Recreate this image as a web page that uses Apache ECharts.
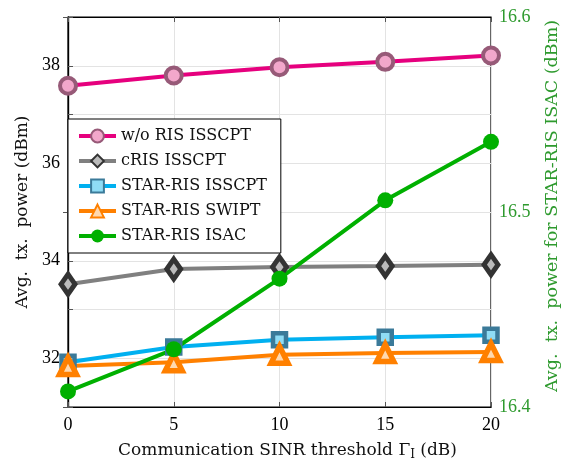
<!DOCTYPE html>
<html>
<head>
<meta charset="utf-8">
<script src="https://cdn.jsdelivr.net/npm/echarts@6/dist/echarts.min.js"></script>
<style>html,body{margin:0;padding:0;background:#fff}#c{width:563px;height:464px}</style>
</head>
<body>
<div id="c"></div>
<script>
const xValues = [0, 5, 10, 15, 20];
const woRIS = [37.59, 37.80, 37.97, 38.08, 38.21];
const cRIS = [33.52, 33.83, 33.87, 33.89, 33.92];
const starISSCPT = [31.92, 32.23, 32.38, 32.43, 32.47];
const starSWIPT = [31.84, 31.92, 32.07, 32.11, 32.13];
const starISAC = [16.408, 16.4296, 16.4658, 16.506, 16.536];
const seriesNames = ['w/o RIS ISSCPT', 'cRIS ISSCPT', 'STAR-RIS ISSCPT', 'STAR-RIS SWIPT', 'STAR-RIS ISAC'];

const FONT = 'DejaVu Serif';
const NUMFONT = 'Liberation Serif';
const GREEN_TXT = '#2e9a2e';
const pairs = arr => xValues.map((x, i) => [x, arr[i]]);

const chart = echarts.init(document.getElementById('c'), null, {renderer: 'canvas'});
chart.setOption({
  animation: false,
  textStyle: {fontFamily: FONT},
  grid: {left: 68, right: 72, top: 17, bottom: 57, outerBoundsMode: 'none', containLabel: false,
         show: true, borderColor: '#000', borderWidth: 1.2, backgroundColor: 'transparent'},
  legend: {
    left: 68, top: 119, orient: 'vertical',
    backgroundColor: '#fff', borderColor: '#000', borderWidth: 1, borderRadius: 0,
    padding: [9, 14, 9, 9], itemGap: 9, itemWidth: 37, itemHeight: 16,
    lineStyle: {width: 4},
    textStyle: {fontFamily: FONT, fontSize: 16, color: '#111'},
    data: seriesNames
  },
  xAxis: [{
    type: 'value', min: 0, max: 20, interval: 5,
    name: '{t|Communication SINR threshold Γ}{s|I}{t| (dB)}',
    nameLocation: 'middle', nameGap: 34,
    nameTextStyle: {padding: [0, 0, 0, 16], rich: {t: {fontFamily: FONT, fontSize: 17, color: '#111'}, s: {fontFamily: FONT, fontSize: 12, color: '#111', verticalAlign: 'bottom', padding: [8, 0, 0, 0]}}},
    axisLine: {show: true, lineStyle: {color: '#000', width: 1.2}},
    axisTick: {show: true, inside: true, length: 5, lineStyle: {color: '#555'}},
    axisLabel: {fontFamily: NUMFONT, fontSize: 18, color: '#000', margin: 9},
    splitLine: {show: true, lineStyle: {color: '#e3e3e3', width: 1}}
  }, {
    type: 'value', min: 0, max: 20, interval: 5, position: 'top',
    axisLine: {show: true, lineStyle: {color: '#000', width: 1.2}},
    axisTick: {show: true, inside: true, length: 5, lineStyle: {color: '#555'}},
    axisLabel: {show: false}, splitLine: {show: false}
  }],
  yAxis: [{
    type: 'value', min: 31, max: 39, interval: 1,
    name: 'Avg.  tx.  power (dBm)', nameLocation: 'middle', nameGap: 36, nameRotate: 90,
    nameTextStyle: {fontFamily: FONT, fontSize: 17, color: '#111'},
    axisLine: {show: true, lineStyle: {color: '#000', width: 1.2}},
    axisTick: {show: true, inside: true, length: 5, interval: i => i % 2 === 1, lineStyle: {color: '#555'}},
    axisLabel: {fontFamily: NUMFONT, fontSize: 18, color: '#000', margin: 8, formatter: v => (v % 2 === 0 ? String(v) : '')},
    splitLine: {show: true, interval: i => i % 2 === 1, lineStyle: {color: '#e3e3e3', width: 1}}
  }, {
    type: 'value', min: 16.4, max: 16.6, interval: 0.1, position: 'right',
    name: 'Avg.  tx.  power for STAR-RIS ISAC (dBm)', nameLocation: 'middle', nameGap: 52, nameRotate: 90,
    nameTextStyle: {fontFamily: FONT, fontSize: 17.5, color: GREEN_TXT, padding: [0, 0, 0, 12]},
    axisLine: {show: true, lineStyle: {color: '#000', width: 1.2}},
    axisTick: {show: true, inside: true, length: 5, lineStyle: {color: '#555'}},
    axisLabel: {fontFamily: NUMFONT, fontSize: 18, color: GREEN_TXT, margin: 8, formatter: v => v.toFixed(1)},
    splitLine: {show: false}
  }],
  series: [
    {name: seriesNames[0], type: 'line', yAxisIndex: 0, data: pairs(woRIS),
     lineStyle: {color: '#e6007e', width: 4}, symbol: 'circle', symbolSize: 16,
     itemStyle: {color: '#f2a7cb', borderColor: '#975a78', borderWidth: 4}},
    {name: seriesNames[1], type: 'line', yAxisIndex: 0, data: pairs(cRIS),
     lineStyle: {color: '#808080', width: 4}, symbol: 'diamond', symbolSize: [14, 20],
     itemStyle: {color: '#bbbbbb', borderColor: '#333333', borderWidth: 5}},
    {name: seriesNames[2], type: 'line', yAxisIndex: 0, data: pairs(starISSCPT),
     lineStyle: {color: '#00b0f0', width: 4}, symbol: 'rect', symbolSize: 13,
     itemStyle: {color: '#8fdcf5', borderColor: '#3b7a99', borderWidth: 4.5}},
    {name: seriesNames[3], type: 'line', yAxisIndex: 0, data: pairs(starSWIPT),
     lineStyle: {color: '#ff8000', width: 4}, symbol: 'triangle', symbolSize: 17,
     itemStyle: {color: '#ffd9b0', borderColor: '#ff8000', borderWidth: 5.5}},
    {name: seriesNames[4], type: 'line', yAxisIndex: 1, data: pairs(starISAC),
     lineStyle: {color: '#00b000', width: 4}, symbol: 'circle', symbolSize: 16,
     itemStyle: {color: '#00b000', borderColor: '#00b000', borderWidth: 0}}
  ]
});
</script>
</body>
</html>
